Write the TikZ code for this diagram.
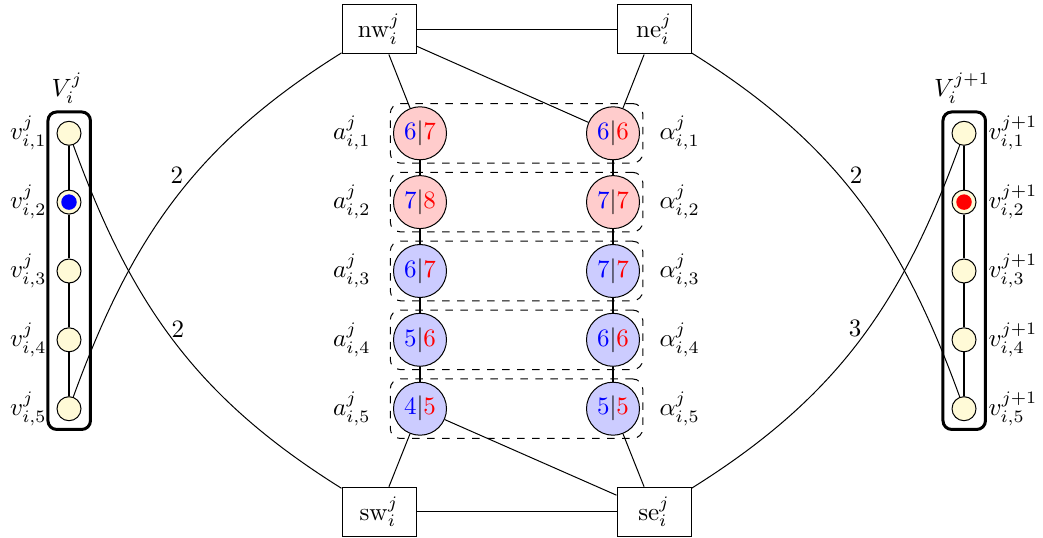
\documentclass[tikz,border=0pt]{standalone}
\usetikzlibrary{fit}
\definecolor{vyellow}{RGB}{255,250,215}
\begin{document}
\begin{tikzpicture}[x=0.4pt,y=-0.4pt,
  bignode/.style={circle,draw,minimum size=21.2pt,inner sep=0pt},
  pinknode/.style={bignode,fill=red!20},
  bluenode/.style={bignode,fill=blue!20},
  smallnode/.style={circle,draw,fill=vyellow,minimum size=9.6pt,inner sep=0pt},
  gadget/.style={rectangle,draw,minimum width=29.6pt,minimum height=19.6pt,inner sep=0pt},
  grp/.style={draw,dashed,rounded corners=4pt,inner sep=1.1pt},
  column/.style={rectangle,draw,very thick,rounded corners=3.5pt,minimum width=17pt,minimum height=127pt,inner sep=0pt},
  chainline/.style={thick},
  dotnode/.style={circle,minimum size=6.2pt,inner sep=0pt},
  wlabel/.style={inner sep=0.6pt}
]
\useasboundingbox (0,0) rectangle (1043,538);

% gadget boxes
\node[gadget] (nw) at (379,29.5) {$\mathrm{nw}_i^j$};
\node[gadget] (ne) at (654,29.5) {$\mathrm{ne}_i^j$};
\node[gadget] (sw) at (379,511.7) {$\mathrm{sw}_i^j$};
\node[gadget] (se) at (654,511.7) {$\mathrm{se}_i^j$};

% a and alpha nodes
\node[pinknode] (a1) at (420,133.3) {{\color{blue}6}$|${\color{red}7}};
\node[pinknode] (a2) at (420,202.1) {{\color{blue}7}$|${\color{red}8}};
\node[bluenode] (a3) at (420,271.0) {{\color{blue}6}$|${\color{red}7}};
\node[bluenode] (a4) at (420,339.8) {{\color{blue}5}$|${\color{red}6}};
\node[bluenode] (a5) at (420,408.7) {{\color{blue}4}$|${\color{red}5}};
\node[pinknode] (b1) at (613,133.3) {{\color{blue}6}$|${\color{red}6}};
\node[pinknode] (b2) at (613,202.1) {{\color{blue}7}$|${\color{red}7}};
\node[bluenode] (b3) at (613,271.0) {{\color{blue}7}$|${\color{red}7}};
\node[bluenode] (b4) at (613,339.8) {{\color{blue}6}$|${\color{red}6}};
\node[bluenode] (b5) at (613,408.7) {{\color{blue}5}$|${\color{red}5}};

% dashed groups
\node[grp,fit=(a1)(b1)] (g1) {};
\node[grp,fit=(a2)(b2)] (g2) {};
\node[grp,fit=(a3)(b3)] (g3) {};
\node[grp,fit=(a4)(b4)] (g4) {};
\node[grp,fit=(a5)(b5)] (g5) {};

% a / alpha labels
\node[anchor=east,inner sep=0pt] (la1) at (371,133.3) {$a_{i,1}^j$};
\node[anchor=east,inner sep=0pt] (la2) at (371,202.1) {$a_{i,2}^j$};
\node[anchor=east,inner sep=0pt] (la3) at (371,271.0) {$a_{i,3}^j$};
\node[anchor=east,inner sep=0pt] (la4) at (371,339.8) {$a_{i,4}^j$};
\node[anchor=east,inner sep=0pt] (la5) at (371,408.7) {$a_{i,5}^j$};
\node[anchor=west,inner sep=0pt] (lb1) at (659,133.3) {$\alpha_{i,1}^j$};
\node[anchor=west,inner sep=0pt] (lb2) at (659,202.1) {$\alpha_{i,2}^j$};
\node[anchor=west,inner sep=0pt] (lb3) at (659,271.0) {$\alpha_{i,3}^j$};
\node[anchor=west,inner sep=0pt] (lb4) at (659,339.8) {$\alpha_{i,4}^j$};
\node[anchor=west,inner sep=0pt] (lb5) at (659,408.7) {$\alpha_{i,5}^j$};

% columns V
\node[column] (VL) at (69.2,270.7) {};
\node[column] (VR) at (964.2,270.7) {};
\node (VLlab) at (67,88) {$V_i^j$};
\node (VRlab) at (962,88) {$V_i^{j+1}$};

\node[smallnode] (l1) at (69,133.3) {};
\node[smallnode] (l2) at (69,202.1) {};
\node[smallnode] (l3) at (69,271.0) {};
\node[smallnode] (l4) at (69,339.8) {};
\node[smallnode] (l5) at (69,408.7) {};
\node[smallnode] (r1) at (964,133.3) {};
\node[smallnode] (r2) at (964,202.1) {};
\node[smallnode] (r3) at (964,271.0) {};
\node[smallnode] (r4) at (964,339.8) {};
\node[smallnode] (r5) at (964,408.7) {};
\node[dotnode,fill=blue] (ldot) at (l2) {};
\node[dotnode,fill=red] (rdot) at (r2) {};

\node[anchor=east,inner sep=0pt] (vl1) at (47,133.3) {$v_{i,1}^j$};
\node[anchor=east,inner sep=0pt] (vl2) at (47,202.1) {$v_{i,2}^j$};
\node[anchor=east,inner sep=0pt] (vl3) at (47,271.0) {$v_{i,3}^j$};
\node[anchor=east,inner sep=0pt] (vl4) at (47,339.8) {$v_{i,4}^j$};
\node[anchor=east,inner sep=0pt] (vl5) at (47,408.7) {$v_{i,5}^j$};
\node[anchor=west,inner sep=0pt] (vr1) at (988,133.3) {$v_{i,1}^{j+1}$};
\node[anchor=west,inner sep=0pt] (vr2) at (988,202.1) {$v_{i,2}^{j+1}$};
\node[anchor=west,inner sep=0pt] (vr3) at (988,271.0) {$v_{i,3}^{j+1}$};
\node[anchor=west,inner sep=0pt] (vr4) at (988,339.8) {$v_{i,4}^{j+1}$};
\node[anchor=west,inner sep=0pt] (vr5) at (988,408.7) {$v_{i,5}^{j+1}$};

% chains
\draw[chainline] (l1) -- (l2);
\draw[chainline] (l2) -- (l3);
\draw[chainline] (l3) -- (l4);
\draw[chainline] (l4) -- (l5);
\draw[chainline] (r1) -- (r2);
\draw[chainline] (r2) -- (r3);
\draw[chainline] (r3) -- (r4);
\draw[chainline] (r4) -- (r5);
\draw[chainline] (a1) -- (a2);
\draw[chainline] (a2) -- (a3);
\draw[chainline] (a3) -- (a4);
\draw[chainline] (a4) -- (a5);
\draw[chainline] (b1) -- (b2);
\draw[chainline] (b2) -- (b3);
\draw[chainline] (b3) -- (b4);
\draw[chainline] (b4) -- (b5);

% gadget connectors
\draw (nw) -- (ne);
\draw (sw) -- (se);
\draw (nw) -- (a1);
\draw (nw) -- (b1);
\draw (ne) -- (b1);
\draw (a5) -- (sw);
\draw (a5) -- (se);
\draw (b5) -- (se);

% curved connectors
\draw (l5) to[out=70,in=-148] node[pos=0.54,anchor=south east,wlabel] (w1) {2} (nw);
\draw (l1) to[out=-70,in=148] node[pos=0.49,anchor=south west,wlabel,xshift=-1.2pt] (w2) {2} (sw);
\draw (r5) to[out=110,in=-32] node[pos=0.54,anchor=south west,wlabel] (w3) {2} (ne);
\draw (r1) to[out=-110,in=32] node[pos=0.49,anchor=south east,wlabel,xshift=1.2pt] (w4) {3} (se);
\end{tikzpicture}
\end{document}
